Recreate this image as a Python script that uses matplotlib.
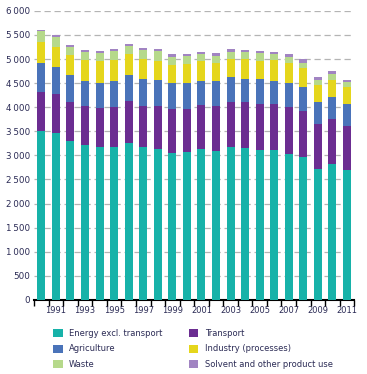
import matplotlib
matplotlib.use("Agg")
import matplotlib.pyplot as plt
from matplotlib.ticker import FuncFormatter, MultipleLocator
from matplotlib.patches import Patch
import numpy as np

# data
years = list(range(1990, 2012))
energy = [3515, 3473, 3293, 3208, 3167, 3181, 3265, 3167, 3125, 3042, 3063,
          3125, 3084, 3167, 3147, 3107, 3107, 3027, 2973, 2727, 2827, 2707]
transport = [791, 791, 805, 827, 827, 826, 874, 868, 910, 930, 903,
             924, 951, 951, 971, 962, 962, 987, 958, 933, 930, 911]
agriculture = [604, 576, 562, 514, 513, 542, 521, 541, 521, 521, 527,
               500, 500, 500, 472, 507, 480, 479, 479, 458, 465, 458]
industry = [451, 417, 416, 423, 444, 437, 437, 431, 409, 382, 396,
            402, 375, 375, 417, 389, 423, 417, 396, 340, 347, 334]
waste = [215, 208, 181, 181, 181, 188, 181, 181, 195, 167, 167,
         146, 160, 153, 146, 153, 125, 139, 118, 111, 112, 118]
solvent = [35, 42, 42, 42, 42, 41, 42, 41, 41, 55, 41,
           56, 55, 55, 41, 56, 56, 48, 69, 56, 69, 41]

series = [
    ("Energy excl. transport", energy, "#17b2a9"),
    ("Transport", transport, "#6b2d91"),
    ("Agriculture", agriculture, "#4a73b9"),
    ("Industry (processes)", industry, "#e5d61c"),
    ("Waste", waste, "#b6d98b"),
    ("Solvent and other product use", solvent, "#a184c2"),
]

plt.rcParams['font.family'] = ['DejaVu Sans']
text_col = "#2b2b55"

fig = plt.figure(figsize=(3.67, 3.74), dpi=100)
ax = fig.add_axes([0.093, 0.198, 0.872, 0.773])

x = np.arange(len(years))
bottom = np.zeros(len(years))
for name, vals, col in series:
    ax.bar(x, vals, width=0.55, bottom=bottom, color=col, zorder=3)
    bottom += np.array(vals)

ax.set_ylim(0, 6000)
ax.set_xlim(-0.5, len(years) - 0.5)
ax.yaxis.set_major_locator(MultipleLocator(500))
ax.yaxis.set_major_formatter(FuncFormatter(lambda v, p: f"{int(v):,}".replace(",", "\u2009")))
ax.grid(axis="y", color="#b4b4b4", linestyle=(0, (5, 3)), linewidth=0.9, zorder=0)
ax.set_axisbelow(True)

ax.set_xticks(x[1::2])
ax.set_xticklabels([str(y) for y in years[1::2]])
ax.set_xticks(np.arange(-0.5, len(years), 1), minor=True)
ax.tick_params(axis="x", which="major", length=0, labelsize=6, colors=text_col, pad=4)
ax.tick_params(axis="x", which="minor", length=4, width=1, color="black", direction="out")
ax.tick_params(axis="y", length=0, labelsize=6.3, colors=text_col, pad=3)

for s in ["top", "right", "left"]:
    ax.spines[s].set_visible(False)
ax.spines["bottom"].set_linewidth(1.5)
ax.spines["bottom"].set_color("black")

handles = {name: Patch(facecolor=col, edgecolor="none") for name, vals, col in series}
order = ["Energy excl. transport", "Agriculture", "Waste",
         "Transport", "Industry (processes)", "Solvent and other product use"]
leg = fig.legend([handles[n] for n in order], order, ncol=2, frameon=False,
                 loc="upper left", bbox_to_anchor=(0.125, 0.14),
                 fontsize=6, handlelength=1.1, handleheight=1.1,
                 handletextpad=0.8, columnspacing=3.2, labelspacing=0.75)
for t in leg.get_texts():
    t.set_color(text_col)

fig.savefig("out.png", dpi=100)
